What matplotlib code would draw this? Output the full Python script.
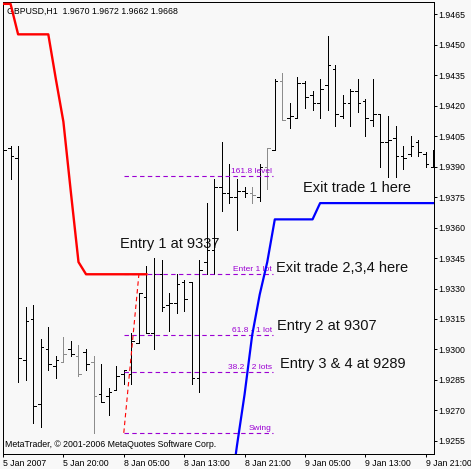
import numpy as np
import matplotlib.pyplot as plt

plt.rcParams['font.family'] = ['Liberation Sans', 'DejaVu Sans']

# ------------------------------------------------------------------
# GBPUSD H1 bars (index 0 = first bar on screen)
# ------------------------------------------------------------------
opens = [1.9401, 1.9399, 1.9394, 1.9295, 1.9315, 1.9273, 1.9300, 1.9292, 1.9294, 1.9300,
         1.9297, 1.9299, 1.9294, 1.9278, 1.9277, 1.9280, 1.9288, 1.9288, 1.9303, 1.9326,
         1.9308, 1.9337, 1.9322, 1.9323, 1.9333, 1.9333, 1.9286, 1.9343, 1.9349, 1.9380,
         1.9377, 1.9375, 1.9378, 1.9377, 1.9375, 1.9390, 1.9398, 1.9432, 1.9414, 1.9414,
         1.9431, 1.9425, 1.9421, 1.9430, 1.9438, 1.9415, 1.9421, 1.9427, 1.9422, 1.9413,
         1.9416, 1.9402, 1.9404, 1.9395, 1.9396, 1.9402, 1.9396, 1.9390]
highs = [1.9405, 1.9400, 1.9400, 1.9321, 1.9322, 1.9305, 1.9311, 1.9297, 1.9306, 1.9304,
         1.9302, 1.9300, 1.9297, 1.9293, 1.9281, 1.9292, 1.9290, 1.9308, 1.9328, 1.9341,
         1.9345, 1.9344, 1.9328, 1.9337, 1.9334, 1.9333, 1.9344, 1.9372, 1.9384, 1.9402,
         1.9391, 1.9384, 1.9380, 1.9380, 1.9391, 1.9399, 1.9433, 1.9436, 1.9421, 1.9434,
         1.9432, 1.9427, 1.9433, 1.9454, 1.9440, 1.9425, 1.9428, 1.9433, 1.9423, 1.9433,
         1.9416, 1.9415, 1.9410, 1.9400, 1.9405, 1.9403, 1.9397, 1.9398]
lows = [1.9385, 1.9384, 1.9284, 1.9285, 1.9264, 1.9262, 1.9290, 1.9286, 1.9294, 1.9297,
        1.9287, 1.9290, 1.9259, 1.9274, 1.9268, 1.9280, 1.9283, 1.9283, 1.9303, 1.9308,
        1.9300, 1.9319, 1.9309, 1.9318, 1.9319, 1.9283, 1.9279, 1.9337, 1.9337, 1.9368,
        1.9372, 1.9359, 1.9375, 1.9372, 1.9373, 1.9379, 1.9398, 1.9413, 1.9409, 1.9414,
        1.9419, 1.9418, 1.9414, 1.9418, 1.9410, 1.9414, 1.9410, 1.9417, 1.9405, 1.9410,
        1.9390, 1.9385, 1.9385, 1.9389, 1.9395, 1.9395, 1.9390, 1.9390]
closes = [1.9398, 1.9395, 1.9296, 1.9314, 1.9272, 1.9301, 1.9293, 1.9295, 1.9298, 1.9298,
          1.9288, 1.9293, 1.9277, 1.9274, 1.9279, 1.9287, 1.9290, 1.9304, 1.9328, 1.9308,
          1.9337, 1.9321, 1.9323, 1.9332, 1.9325, 1.9286, 1.9339, 1.9349, 1.9380, 1.9377,
          1.9375, 1.9378, 1.9377, 1.9376, 1.9390, 1.9399, 1.9432, 1.9413, 1.9415, 1.9431,
          1.9424, 1.9421, 1.9428, 1.9440, 1.9416, 1.9421, 1.9427, 1.9421, 1.9414, 1.9416,
          1.9402, 1.9403, 1.9395, 1.9394, 1.9400, 1.9397, 1.9391, 1.9390]

# trailing stop lines
nan = np.nan
red_stop = [1.9470, 1.9470, 1.9455, 1.9455, 1.9455, 1.9455, 1.9455, 1.9433, 1.9412, 1.9377,
            1.9343, 1.9337, 1.9337, 1.9337, 1.9337, 1.9337, 1.9337, 1.9337, 1.9337, 1.9337] + [nan] * 38
blue_stop = [nan] * 30 + [1.9226, 1.9253, 1.9278, 1.9307, 1.9327, 1.9343, 1.9364, 1.9364,
                          1.9364, 1.9364, 1.9364, 1.9364] + [1.9372] * 16

grey_bars = [8, 10, 12, 33, 35, 37]

x_tick_labels = ['5 Jan 2007', '5 Jan 20:00', '8 Jan 05:00', '8 Jan 13:00',
                 '8 Jan 21:00', '9 Jan 05:00', '9 Jan 13:00', '9 Jan 21:00']

# fibonacci set-up
swing_low = 1.9259
entry_1 = 1.9337
swing_bar = 16
entry_bar = 18
fib_end_bar = 35.7
fib_pct = [0.0, 38.2, 61.8, 100.0, 161.8]
fib_text = ['Swing', '38.2 - 2 lots', '61.8 - 1 lot', 'Enter 1 lot', '161.8 level']

# ------------------------------------------------------------------
BG = '#f8f8f8'
PURPLE = '#9b00d3'
PX = 0.72  # one pixel in points at dpi 100

fig = plt.figure(figsize=(4.71, 4.69), dpi=100, facecolor=BG)
ax = fig.add_axes([2.5 / 471, 15.5 / 469, 431 / 471, 451 / 469], facecolor=BG)

n = len(opens)
x = np.arange(n)
cols = ['#8c8c8c' if i in grey_bars else 'black' for i in range(n)]

# annotation texts (behind bars)
big = dict(fontsize=10.5, color='#111111', va='center', ha='left', zorder=1)
ax.text(15.5, 1.93519, 'Entry 1 at 9337', **big)
ax.text(39.7, 1.93794, 'Exit trade 1 here', **big)
ax.text(36.2, 1.93401, 'Exit trade 2,3,4 here', **big)
ax.text(36.3, 1.93116, 'Entry 2 at 9307', **big)
ax.text(36.7, 1.92929, 'Entry 3 & 4 at 9289', **big)

# OHLC bars
ax.vlines(x, lows, highs, colors=cols, lw=PX, zorder=3, antialiased=False)
ax.hlines(opens, x - 0.35, x, colors=cols, lw=PX, zorder=3, antialiased=False)
ax.hlines(closes, x, x + 0.35, colors=cols, lw=PX, zorder=3, antialiased=False)

# fibonacci levels
rng = entry_1 - swing_low
for pct, lab in zip(fib_pct, fib_text):
    lvl = swing_low + rng * pct / 100.0
    ax.hlines(lvl, swing_bar, fib_end_bar, colors=PURPLE, lw=0.8,
              linestyles=(0, (4, 3)), zorder=4)
    ax.text(fib_end_bar - 0.1, lvl + 0.00005, lab, fontsize=6, color=PURPLE,
            ha='right', va='bottom', zorder=4)
ax.plot([swing_bar, entry_bar], [swing_low, entry_1], color='red', lw=0.8,
        ls=(0, (4, 3)), zorder=4)

# stop lines
ax.plot(x, red_stop, color='red', lw=1.7, zorder=5)
ax.plot(x, blue_stop, color='blue', lw=1.6, zorder=5)

# header / footer
ax.text(0.01, 0.981, 'GBPUSD,H1  1.9670 1.9672 1.9662 1.9668', transform=ax.transAxes,
        fontsize=6.3, ha='left', va='center', color='black')
ax.text(0.006, 0.019, 'MetaTrader, © 2001-2006 MetaQuotes Software Corp.',
        transform=ax.transAxes, fontsize=6.3, ha='left', va='center', color='black')

# axes
ax.set_xlim(-0.066, 57.02)
ax.set_ylim(1.924885, 1.947066)

ax.set_xticks(range(0, 57, 8))
ax.set_xticklabels(x_tick_labels, ha='left')
yt = np.round(np.arange(1.9255, 1.94651, 0.0015), 4)
ax.set_yticks(yt)
ax.set_yticklabels([f'{v:.4f}' for v in yt])
ax.yaxis.tick_right()
ax.tick_params(axis='both', direction='out', length=2.3, width=PX, labelsize=6.3,
               colors='black', pad=1.2)
ax.tick_params(axis='x', pad=1.5)

for s in ax.spines.values():
    s.set_color('black')
    s.set_linewidth(PX)

fig.savefig('out.png', dpi=100, facecolor=BG)
